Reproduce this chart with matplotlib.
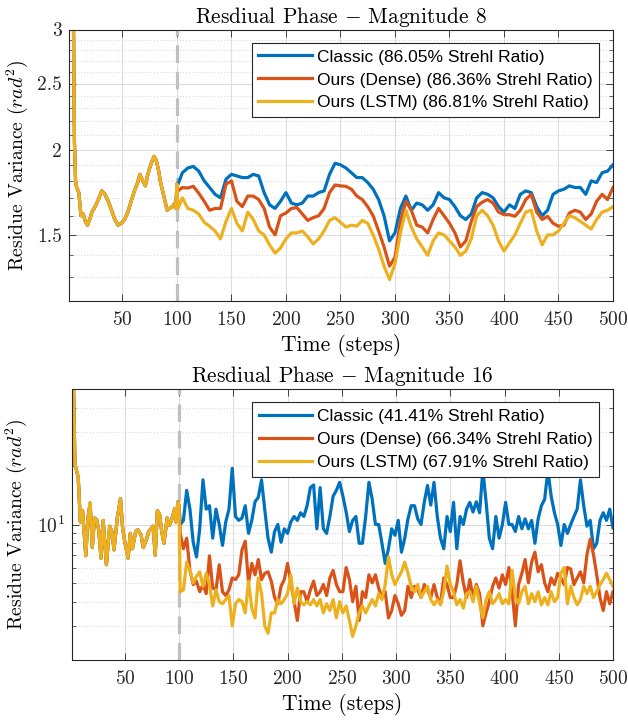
import numpy as np
import matplotlib
matplotlib.use("Agg")
import matplotlib.pyplot as plt
from matplotlib.ticker import FixedLocator, FixedFormatter, NullFormatter

plt.rcParams['font.family'] = 'cmr10'
plt.rcParams['mathtext.fontset'] = 'cm'
plt.rcParams['axes.formatter.use_mathtext'] = True

C_BLUE = '#0072BD'
C_RED = '#D95319'
C_YEL = '#EDB120'

# ---------------- Magnitude 8 ----------------
m8_warm_steps = [1, 3, 5, 6, 7, 8, 10, 12, 14, 16, 18, 20, 22, 25, 28, 31, 34, 37, 40,
                 43, 46, 49, 52, 55, 58, 61, 64, 66, 68, 71, 73, 75, 77, 79, 81, 83,
                 85, 88, 91, 93, 96, 98, 99, 100]
m8_warm = [12.0, 6.0, 3.2, 2.05, 1.80, 1.76, 1.73, 1.60, 1.61, 1.57, 1.55, 1.58, 1.62,
           1.65, 1.69, 1.74, 1.72, 1.68, 1.63, 1.58, 1.55, 1.56, 1.58, 1.62, 1.68, 1.74,
           1.79, 1.84, 1.81, 1.77, 1.83, 1.88, 1.92, 1.955, 1.93, 1.87, 1.79, 1.71, 1.63,
           1.64, 1.65, 1.67, 1.64, 1.78]

m8_steps = [101] + list(range(105, 501, 5))
m8_classic = [1.78, 1.85, 1.88, 1.89, 1.86, 1.80, 1.76, 1.72, 1.70, 1.81,
              1.84, 1.83, 1.82, 1.82, 1.84, 1.83, 1.73, 1.66, 1.64, 1.68,
              1.73, 1.67, 1.66, 1.67, 1.71, 1.71, 1.73, 1.74, 1.84, 1.91,
              1.90, 1.88, 1.85, 1.82, 1.82, 1.79, 1.75, 1.69, 1.60, 1.47,
              1.51, 1.64, 1.71, 1.63, 1.67, 1.66, 1.63, 1.66, 1.73, 1.70,
              1.69, 1.65, 1.60, 1.58, 1.61, 1.70, 1.73, 1.72, 1.70, 1.65,
              1.62, 1.66, 1.64, 1.72, 1.74, 1.73, 1.65, 1.60, 1.63, 1.72,
              1.74, 1.75, 1.77, 1.76, 1.76, 1.72, 1.80, 1.79, 1.85, 1.86,
              1.90]
m8_dense = [1.74, 1.76, 1.757, 1.767, 1.727, 1.68, 1.63, 1.64, 1.64, 1.78,
            1.80, 1.68, 1.65, 1.71, 1.71, 1.69, 1.64, 1.54, 1.50, 1.60,
            1.615, 1.64, 1.645, 1.61, 1.575, 1.59, 1.60, 1.64, 1.73, 1.775,
            1.77, 1.767, 1.75, 1.71, 1.69, 1.65, 1.60, 1.52, 1.44, 1.35,
            1.39, 1.57, 1.68, 1.63, 1.55, 1.54, 1.51, 1.58, 1.64, 1.60,
            1.56, 1.51, 1.44, 1.47, 1.57, 1.65, 1.675, 1.69, 1.67, 1.62,
            1.606, 1.606, 1.597, 1.63, 1.69, 1.72, 1.62, 1.58, 1.597, 1.56,
            1.544, 1.55, 1.615, 1.63, 1.62, 1.58, 1.61, 1.68, 1.72, 1.69,
            1.76]
m8_lstm = [1.64, 1.70, 1.64, 1.63, 1.61, 1.565, 1.544, 1.52, 1.48, 1.57,
           1.64, 1.56, 1.52, 1.62, 1.58, 1.52, 1.50, 1.45, 1.41, 1.435,
           1.48, 1.51, 1.51, 1.52, 1.49, 1.455, 1.48, 1.52, 1.575, 1.59,
           1.565, 1.54, 1.55, 1.545, 1.575, 1.56, 1.50, 1.43, 1.35, 1.29,
           1.36, 1.51, 1.63, 1.54, 1.48, 1.44, 1.40, 1.47, 1.51, 1.50,
           1.47, 1.44, 1.40, 1.42, 1.48, 1.60, 1.63, 1.60, 1.55, 1.47,
           1.42, 1.46, 1.50, 1.56, 1.62, 1.63, 1.52, 1.45, 1.50, 1.50,
           1.52, 1.56, 1.60, 1.59, 1.57, 1.55, 1.53, 1.58, 1.62, 1.63,
           1.65]

# ---------------- Magnitude 16 ----------------
m16_warm_steps = [1, 3, 4, 6, 7, 9, 11, 12, 14, 16, 18, 20, 22, 24, 26, 28, 30, 33, 36,
                  38, 40, 43, 46, 48, 50, 53, 55, 57, 60, 62, 65, 67, 70, 72, 76, 78,
                  80, 82, 84, 86, 89, 91, 93, 96, 97, 99, 100]
m16_warm = [200.0, 40.0, 20.5, 18.5, 17.5, 10.3, 11.8, 9.9, 6.9, 10.8, 12.9, 7.6, 10.8,
            10.6, 9.3, 6.7, 10.5, 6.2, 9.8, 9.2, 7.4, 10.8, 13.6, 9.5, 8.1, 6.7, 9.0,
            7.5, 9.2, 9.4, 8.8, 7.6, 8.4, 9.2, 9.8, 6.95, 11.8, 11.3, 9.2, 8.0, 10.8,
            9.9, 10.5, 12.1, 10.3, 13.1, 12.5]

m16_steps = list(range(101, 501, 3))
m16_classic = [10.0, 10.5, 15.0, 12.0, 8.1, 6.8, 9.5, 17.0, 12.0, 12.5,
               8.5, 12.0, 10.0, 7.8, 10.3, 12.0, 19.5, 11.0, 10.5, 10.8,
               12.5, 9.0, 10.5, 13.1, 13.8, 17.0, 11.9, 8.5, 7.2, 9.2,
               10.0, 8.1, 9.5, 9.0, 10.3, 11.0, 10.5, 11.5, 11.0, 12.5,
               15.5, 16.0, 9.5, 15.5, 9.5, 9.0, 11.0, 14.0, 15.0, 16.5,
               14.0, 11.6, 9.2, 10.5, 11.0, 8.0, 8.0, 11.0, 16.5, 13.5,
               10.0, 10.0, 8.0, 6.3, 7.5, 9.5, 8.8, 10.5, 7.2, 8.5,
               10.7, 12.5, 12.5, 10.7, 10.0, 13.0, 15.9, 12.6, 16.5, 11.0,
               8.5, 7.5, 11.0, 9.2, 13.0, 7.5, 11.0, 10.0, 12.0, 13.0,
               11.6, 13.1, 11.5, 19.0, 13.1, 8.5, 7.5, 11.0, 8.5, 10.0,
               13.0, 10.0, 10.0, 9.2, 11.0, 9.5, 10.7, 9.5, 10.5, 8.0,
               10.7, 12.5, 13.5, 19.0, 14.0, 11.5, 10.0, 7.8, 10.0, 9.0,
               10.0, 11.0, 12.0, 17.0, 12.5, 9.8, 10.5, 7.5, 8.0, 10.5,
               11.5, 10.5, 12.0, 9.6]
m16_dense = [9.0, 7.5, 8.5, 5.8, 4.9, 5.1, 4.5, 4.9, 4.4, 6.9,
             4.7, 4.6, 6.2, 4.5, 4.3, 4.6, 5.3, 5.2, 5.5, 7.4,
             8.2, 5.0, 6.3, 5.5, 6.6, 5.2, 5.6, 5.7, 5.1, 4.2,
             3.9, 4.8, 5.2, 6.3, 5.0, 4.0, 3.2, 4.5, 4.5, 4.0,
             4.6, 5.1, 4.3, 4.5, 4.9, 4.3, 5.3, 5.8, 4.9, 4.5,
             4.5, 6.0, 5.2, 4.0, 4.8, 3.2, 4.5, 4.2, 5.5, 5.0,
             5.5, 4.7, 4.2, 4.5, 3.3, 3.6, 4.3, 3.9, 3.4, 3.6,
             4.8, 4.2, 4.8, 4.6, 4.2, 4.9, 4.6, 4.2, 4.9, 4.2,
             3.9, 5.3, 4.9, 4.2, 4.2, 4.9, 6.5, 5.0, 4.2, 5.2,
             4.2, 4.9, 4.4, 3.0, 3.5, 4.0, 4.8, 5.3, 4.7, 5.5,
             4.9, 6.0, 4.5, 3.0, 4.9, 5.6, 6.6, 5.0, 6.4, 7.2,
             5.7, 6.2, 5.0, 4.5, 5.3, 4.9, 5.6, 5.3, 4.9, 6.0,
             5.9, 4.9, 5.3, 5.7, 5.0, 7.0, 8.4, 7.0, 5.5, 4.2,
             3.6, 4.5, 3.9, 4.5]
m16_lstm = [4.5, 4.6, 6.4, 5.8, 5.0, 5.4, 5.7, 4.8, 5.6, 4.9,
            3.8, 4.6, 4.0, 3.9, 4.1, 4.3, 3.0, 3.9, 4.1, 4.0,
            3.5, 5.1, 3.7, 3.3, 5.3, 4.4, 3.0, 2.75, 3.5, 3.5,
            4.1, 3.9, 4.1, 4.4, 5.5, 3.9, 4.7, 4.0, 3.85, 4.0,
            3.85, 4.1, 3.8, 4.1, 3.5, 3.9, 3.6, 4.1, 3.3, 4.0,
            3.5, 3.8, 3.2, 2.65, 3.0, 3.5, 3.8, 3.5, 3.8, 4.1,
            3.8, 4.4, 4.1, 4.9, 6.8, 5.5, 4.9, 5.3, 5.7, 6.4,
            5.6, 4.8, 4.5, 4.9, 4.2, 4.5, 4.8, 4.1, 3.85, 4.1,
            3.85, 4.5, 6.1, 4.9, 4.5, 3.85, 4.1, 3.7, 4.4, 4.5,
            4.0, 4.8, 3.9, 3.3, 4.1, 4.5, 3.9, 4.1, 4.4, 3.9,
            4.1, 3.9, 5.8, 4.2, 3.9, 4.5, 4.8, 3.9, 4.4, 4.0,
            4.5, 3.85, 4.2, 3.85, 4.5, 4.0, 4.2, 5.6, 6.0, 3.9,
            4.8, 4.2, 3.85, 4.1, 4.8, 4.4, 4.8, 4.2, 4.5, 4.9,
            5.2, 5.6, 5.2, 4.8]

m8_labels = ['Classic (86.05% Strehl Ratio)',
             'Ours (Dense) (86.36% Strehl Ratio)',
             'Ours (LSTM) (86.81% Strehl Ratio)']
m16_labels = ['Classic (41.41% Strehl Ratio)',
              'Ours (Dense) (66.34% Strehl Ratio)',
              'Ours (LSTM) (67.91% Strehl Ratio)']

x_ticks = list(range(50, 501, 50))
switch_step = 100

LW = 2.3
INK = '#262626'


def style_axes(ax, ylim, major, major_labels, minor):
    ax.set_yscale('log')
    ax.set_xlim(1, 500)
    ax.set_ylim(*ylim)
    ax.xaxis.set_major_locator(FixedLocator(x_ticks))
    ax.yaxis.set_major_locator(FixedLocator(major))
    ax.yaxis.set_major_formatter(FixedFormatter(major_labels))
    ax.yaxis.set_minor_locator(FixedLocator(minor))
    ax.yaxis.set_minor_formatter(NullFormatter())
    ax.tick_params(which='both', direction='in', top=True, right=True,
                   colors=INK, labelsize=14)
    ax.tick_params(axis='x', which='major', pad=7.5)
    ax.tick_params(axis='y', which='major', pad=5)
    ax.tick_params(which='major', length=5, width=0.6)
    ax.tick_params(which='minor', length=3, width=0.5)
    ax.grid(True, which='major', color='#dcdcdc', lw=0.8)
    ax.grid(True, which='minor', axis='y', color='#c4c4c4', lw=0.6,
            ls=(0, (1, 2.5)))
    ax.set_axisbelow(True)
    for s in ax.spines.values():
        s.set_color(INK)
        s.set_linewidth(0.8)


def draw_panel(ax, warm_steps, warm, steps, series, labels, title):
    ax.axvline(switch_step, color='#c0c0c0', lw=2.3, ls=(0, (5.5, 2.8)), zorder=1.5)
    colors = [C_BLUE, C_RED, C_YEL]
    for vals, col, lab in zip(series, colors, labels):
        x = list(warm_steps) + list(steps)
        y = list(warm) + list(vals)
        ax.plot(x, y, color=col, lw=LW, label=lab, zorder=2,
                solid_joinstyle='round')
    ax.set_title(title, fontsize=15.4, color='black', pad=5)
    ax.set_xlabel('Time (steps)', fontsize=15.5, color='black', labelpad=3)
    ax.set_ylabel(r'Residue Variance ($rad^2$)', fontsize=14.2, color='black')
    leg = ax.legend(loc='upper right', bbox_to_anchor=(0.974, 0.951),
                    borderaxespad=0, prop={'family': 'Liberation Sans', 'size': 12.5},
                    frameon=True, fancybox=False, edgecolor=INK, framealpha=1,
                    handlelength=3.1, handletextpad=0.25, borderpad=0.38,
                    labelspacing=0.45)
    leg.get_frame().set_linewidth(0.8)


fig = plt.figure(figsize=(6.28, 7.22), dpi=100)
ax1 = fig.add_axes([69 / 628, 421 / 722, 544 / 628, 271.5 / 722])
ax2 = fig.add_axes([71.7 / 628, 62 / 722, 541.3 / 628, 271 / 722])

style_axes(ax1, (1.2, 3.0), [1.5, 2.0, 2.5, 3.0], ['1.5', '2', '2.5', '3'],
           [1.2, 1.3, 1.4, 1.6, 1.7, 1.8, 1.9, 2.1, 2.2, 2.3, 2.4, 2.6, 2.7, 2.8, 2.9])
draw_panel(ax1, m8_warm_steps, m8_warm, m8_steps,
           [m8_classic, m8_dense, m8_lstm], m8_labels,
           r'Resdiual Phase $-$ Magnitude 8')

style_axes(ax2, (2.0, 50.0), [10.0], [r'$10^1$'],
           [2, 3, 4, 5, 6, 7, 8, 9, 20, 30, 40, 50])
draw_panel(ax2, m16_warm_steps, m16_warm, m16_steps,
           [m16_classic, m16_dense, m16_lstm], m16_labels,
           r'Resdiual Phase $-$ Magnitude 16')

ax1.yaxis.set_label_coords(-0.072, 0.5)
ax2.yaxis.set_label_coords(-0.078, 0.5)

fig.savefig('out.png', dpi=100)
